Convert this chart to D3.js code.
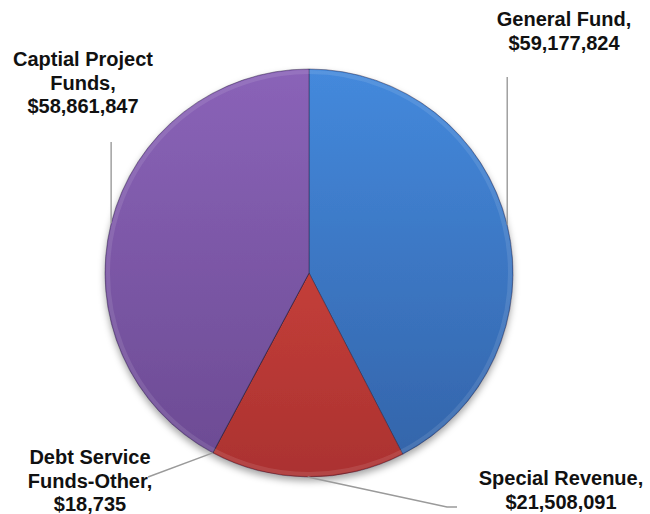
<!DOCTYPE html>
<html>
<head>
<meta charset="utf-8">
<script src="https://cdn.jsdelivr.net/npm/d3@7"></script>
<style>
  html, body { margin: 0; padding: 0; background: #fff; }
  svg { display: block; }
  .lbl { font-family: "Liberation Sans", Arial, sans-serif; font-weight: bold; font-size: 20px; fill: #111; }
</style>
</head>
<body>
<svg id="chart" width="650" height="514"></svg>
<script>
// Fund totals, in pie order (clockwise from 12 o'clock)
const funds = ["General Fund", "Special Revenue", "Debt Service Funds-Other", "Captial Project Funds"];
const amounts = [59177824, 21508091, 18735, 58861847];
// Label text, line by line
const labelLines = [
  ["General Fund,", "$59,177,824"],
  ["Special Revenue,", "$21,508,091"],
  ["Debt Service", "Funds-Other,", "$18,735"],
  ["Captial Project", "Funds,", "$58,861,847"]
];
// Slice colours: light (top) and dark (bottom) shade
const colorsTop = ["#4489dc", "#dc4a42", "#7a5aa6", "#8a63b8"];
const colorsBottom = ["#3363a8", "#ab3230", "#6a4a92", "#6b4a92"];

const svg = d3.select("#chart");
const cx = 309, cy = 273, R = 204;

const defs = svg.append("defs");
const shadow = defs.append("filter").attr("id", "shadow")
  .attr("x", "-20%").attr("y", "-20%").attr("width", "140%").attr("height", "140%");
shadow.append("feDropShadow").attr("dx", 0).attr("dy", 4)
  .attr("stdDeviation", 3.5).attr("flood-color", "#000").attr("flood-opacity", 0.35);

// Vertical shading per slice, in the pie group's coordinates
funds.forEach((f, i) => {
  const g = defs.append("linearGradient").attr("id", "grad" + i)
    .attr("gradientUnits", "userSpaceOnUse")
    .attr("x1", 0).attr("y1", -R).attr("x2", 0).attr("y2", R);
  g.append("stop").attr("offset", "0%").attr("stop-color", colorsTop[i]);
  g.append("stop").attr("offset", "100%").attr("stop-color", colorsBottom[i]);
});

const rows = funds.map((f, i) => ({ name: f, value: amounts[i], idx: i }));
const pie = d3.pie().value(d => d.value).sort(null);
const arcs = pie(rows);
const arc = d3.arc().innerRadius(0).outerRadius(R);
const edgeArc = d3.arc().innerRadius(R).outerRadius(R);

const gPie = svg.append("g").attr("transform", `translate(${cx},${cy})`);
gPie.append("g").attr("filter", "url(#shadow)")
  .selectAll("path").data(arcs).join("path")
  .attr("d", arc)
  .attr("fill", d => `url(#grad${d.data.idx})`)
  .attr("stroke", "rgba(40,30,60,0.45)")
  .attr("stroke-width", 1);

// Soft bevel along the rim
gPie.append("circle").attr("r", R - 3)
  .attr("fill", "none").attr("stroke", "rgba(255,255,255,0.1)").attr("stroke-width", 4);

// Leader lines: from the slice's rim midpoint out to its label
const anchor = i => {
  const c = edgeArc.centroid(arcs[i]);
  return [c[0] + cx, c[1] + cy];
};
const leaders = [
  (p) => [p, [p[0], 77]],
  (p) => [p, [447, 507], [457, 507]],
  (p) => [p, [148, 477]],
  (p) => [p, [p[0], 142]]
];
const line = d3.line();
svg.append("g").selectAll("path").data(arcs).join("path")
  .attr("d", (d, i) => line(leaders[i](anchor(i))))
  .attr("fill", "none").attr("stroke", "#9a9a9a").attr("stroke-width", 1.4);

// Labels
const labelPos = [[564, 26], [561, 485], [90, 464], [83, 66]];
const lineH = 23.5;
svg.append("g").selectAll("text").data(labelLines).join("text")
  .attr("class", "lbl")
  .attr("text-anchor", "middle")
  .attr("transform", (d, i) => `translate(${labelPos[i][0]},${labelPos[i][1]})`)
  .selectAll("tspan").data(d => d).join("tspan")
  .attr("x", 0).attr("y", (d, j) => j * lineH)
  .text(d => d);
</script>
</body>
</html>
